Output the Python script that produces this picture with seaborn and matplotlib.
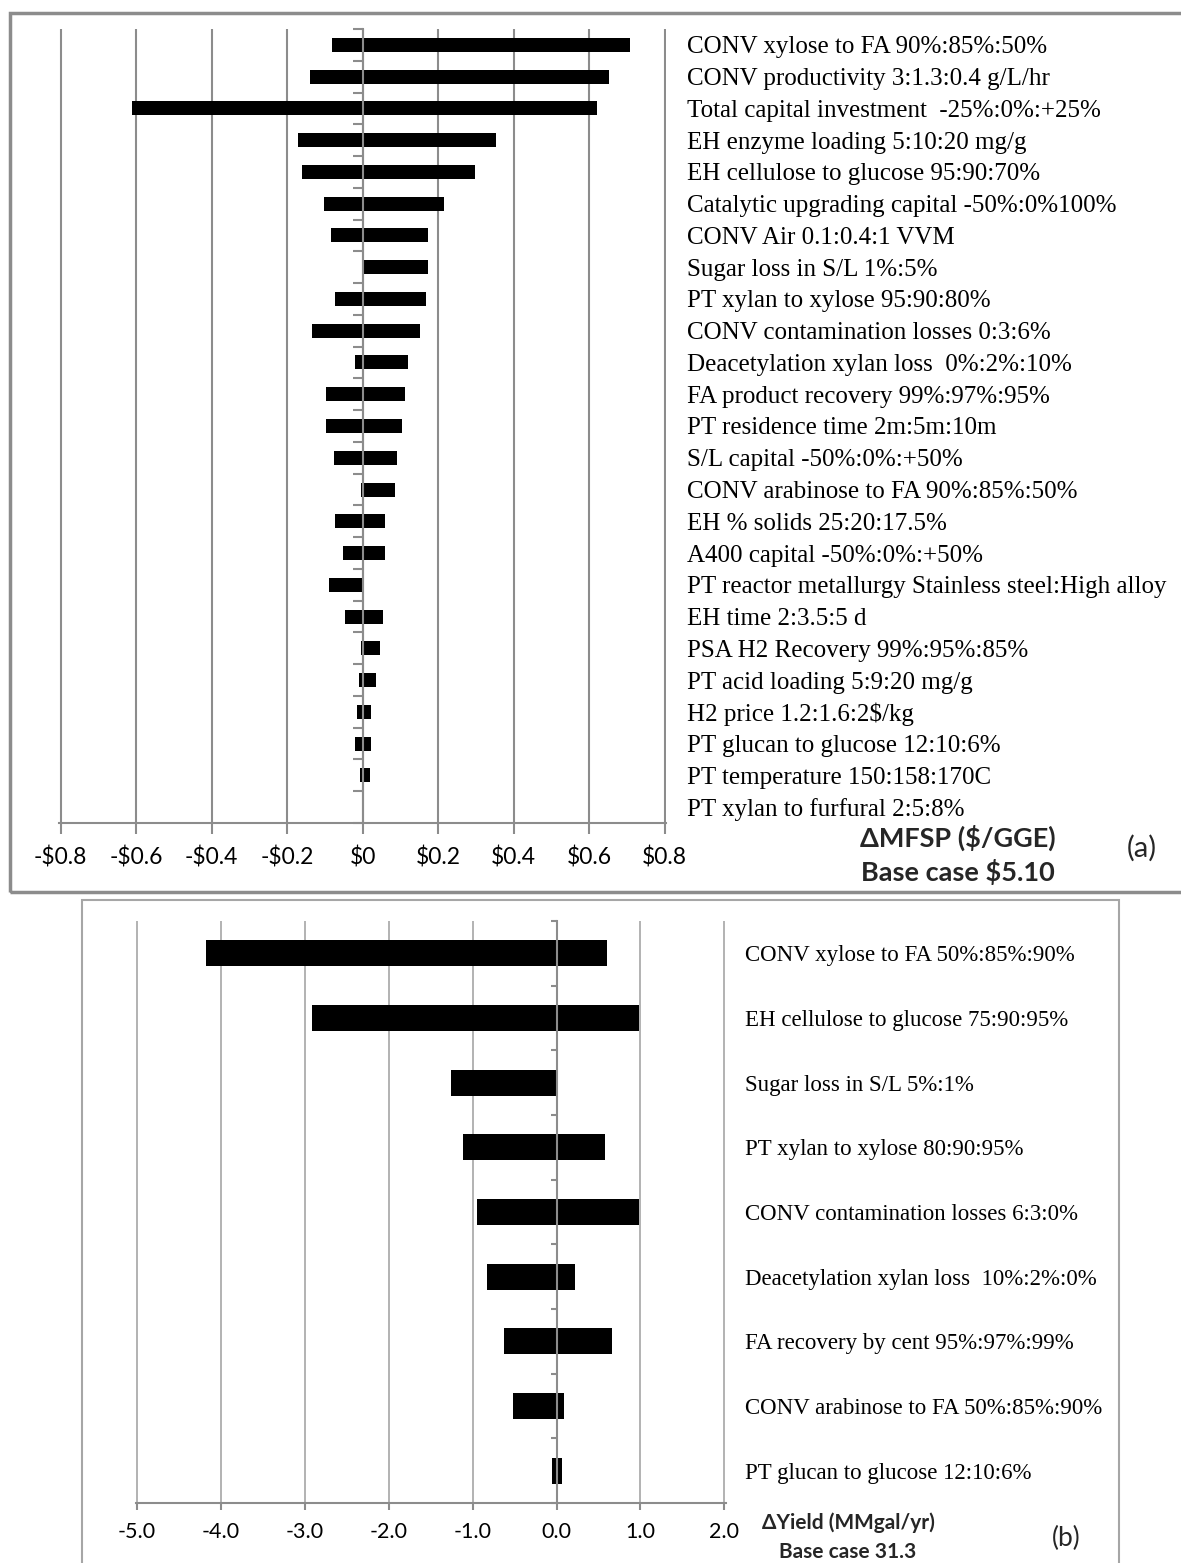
import numpy as np
import pandas as pd
import matplotlib
matplotlib.use("Agg")
import matplotlib.pyplot as plt
import seaborn as sns
from matplotlib.patches import Rectangle

# --- panel (a): MFSP sensitivity ---
factors_a = [
    "CONV xylose to FA 90%:85%:50%",
    "CONV productivity 3:1.3:0.4 g/L/hr",
    "Total capital investment  -25%:0%:+25%",
    "EH enzyme loading 5:10:20 mg/g",
    "EH cellulose to glucose 95:90:70%",
    "Catalytic upgrading capital -50%:0%100%",
    "CONV Air 0.1:0.4:1 VVM",
    "Sugar loss in S/L 1%:5%",
    "PT xylan to xylose 95:90:80%",
    "CONV contamination losses 0:3:6%",
    "Deacetylation xylan loss  0%:2%:10%",
    "FA product recovery 99%:97%:95%",
    "PT residence time 2m:5m:10m",
    "S/L capital -50%:0%:+50%",
    "CONV arabinose to FA 90%:85%:50%",
    "EH % solids 25:20:17.5%",
    "A400 capital -50%:0%:+50%",
    "PT reactor metallurgy Stainless steel:High alloy",
    "EH time 2:3.5:5 d",
    "PSA H2 Recovery 99%:95%:85%",
    "PT acid loading 5:9:20 mg/g",
    "H2 price 1.2:1.6:2$/kg",
    "PT glucan to glucose 12:10:6%",
    "PT temperature 150:158:170C",
    "PT xylan to furfural 2:5:8%",
]
low_a = [-0.082, -0.139, -0.612, -0.171, -0.160, -0.103, -0.083, 0.0, -0.073,
         -0.134, -0.021, -0.097, -0.097, -0.077, -0.005, -0.073, -0.052, -0.088,
         -0.047, -0.005, -0.010, -0.015, -0.021, -0.006, 0.0]
high_a = [0.707, 0.651, 0.620, 0.352, 0.297, 0.214, 0.173, 0.173, 0.168,
          0.153, 0.121, 0.112, 0.105, 0.090, 0.085, 0.058, 0.058, 0.0,
          0.055, 0.045, 0.034, 0.023, 0.023, 0.019, 0.0]
xticks_a = [-0.8, -0.6, -0.4, -0.2, 0.0, 0.2, 0.4, 0.6, 0.8]
xticklabels_a = ["-$0.8", "-$0.6", "-$0.4", "-$0.2", "$0", "$0.2", "$0.4", "$0.6", "$0.8"]

# --- panel (b): yield sensitivity ---
factors_b = [
    "CONV xylose to FA 50%:85%:90%",
    "EH cellulose to glucose 75:90:95%",
    "Sugar loss in S/L 5%:1%",
    "PT xylan to xylose 80:90:95%",
    "CONV contamination losses 6:3:0%",
    "Deacetylation xylan loss  10%:2%:0%",
    "FA recovery by cent 95%:97%:99%",
    "CONV arabinose to FA 50%:85%:90%",
    "PT glucan to glucose 12:10:6%",
]
low_b = [-4.18, -2.92, -1.26, -1.11, -0.95, -0.83, -0.63, -0.52, -0.06]
high_b = [0.60, 0.98, 0.0, 0.58, 0.98, 0.22, 0.66, 0.09, 0.06]
xticks_b = [-5, -4, -3, -2, -1, 0, 1, 2]
xticklabels_b = ["-5.0", "-4.0", "-3.0", "-2.0", "-1.0", "0.0", "1.0", "2.0"]

W, H = 1181, 1563
sns.set_theme(style="white")
plt.rcParams["font.family"] = ["Lato", "DejaVu Sans"]
plt.rcParams["text.parse_math"] = False

fig = plt.figure(figsize=(W / 100, H / 100), dpi=100)


def px_axes(x0, x1, y0, y1):
    # pixel box (top-left origin) -> figure axes
    return fig.add_axes([x0 / W, 1 - y1 / H, (x1 - x0) / W, (y1 - y0) / H])


def tornado(ax, factors, low, high, xticks, xticklabels, lim, bar_w, grid_c, grid_lw,
            label_size, label_pad, tick_size, tick_pad, tick_len):
    df = pd.DataFrame({"factor": factors, "low": low, "high": high})
    for col in ["low", "high"]:
        sns.barplot(data=df, y="factor", x=col, orient="h", color="black",
                    width=bar_w, errorbar=None, saturation=1, linewidth=0, ax=ax)
    n = len(factors)
    eps = (lim[1] - lim[0]) * 0.002
    ax.set_xlim(lim[0] - eps, lim[1] + eps)
    ax.set_ylim(n - 0.5, -0.5)
    ax.set_xlabel("")
    ax.set_ylabel("")
    ax.set_xticks(xticks)
    ax.set_xticklabels(xticklabels)
    ax.set_axisbelow(True)
    ax.grid(axis="x", color=grid_c, lw=grid_lw)
    ax.grid(axis="y", visible=False)
    for s in ["top", "right"]:
        ax.spines[s].set_visible(False)
    ax.spines["left"].set_position(("data", 0))
    for s in ["left", "bottom"]:
        ax.spines[s].set_color("#8c8c8c")
        ax.spines[s].set_linewidth(1.5)
        ax.spines[s].set_zorder(3)
    ax.set_yticks(np.arange(-0.5, n, 1), minor=True)
    ax.tick_params(axis="y", which="major", left=False, right=False, length=0,
                   labelleft=False, labelright=True, pad=label_pad,
                   labelsize=label_size, labelfontfamily="Liberation Serif",
                   labelcolor="black")
    ax.tick_params(axis="y", which="minor", left=True, length=tick_len - 1,
                   width=1.5, color="#8c8c8c", direction="out")
    ax.tick_params(axis="x", which="major", bottom=True, length=tick_len,
                   width=1.5, color="#8c8c8c", direction="out",
                   labelsize=tick_size, pad=tick_pad, labelcolor="black")


ax_a = px_axes(59.4, 666, 29, 823)
tornado(ax_a, factors_a, low_a, high_a, xticks_a, xticklabels_a, (-0.8, 0.8), 0.44,
        "#8c8c8c", 1.5, 18, 15, 16.5, 9, 8)

ax_b = px_axes(136, 725.5, 921, 1503)
tornado(ax_b, factors_b, low_b, high_b, xticks_b, xticklabels_b, (-5, 2), 0.4,
        "#a6a6a6", 1.2, 16.5, 14, 15.5, 9, 5)


def ftext(x, y, s, **kw):
    fig.text(x / W, 1 - y / H, s, ha="center", va="center", **kw)


ftext(958, 838, "ΔMFSP ($/GGE)", fontsize=19.5, fontweight="bold")
ftext(958, 872, "Base case $5.10", fontsize=19.5, fontweight="bold")
ftext(1142, 848, "(a)", fontsize=21)
ftext(848, 1523, "ΔYield (MMgal/yr)", fontsize=15, fontweight="bold")
ftext(848, 1552, "Base case 31.3", fontsize=15, fontweight="bold")
ftext(1066, 1538, "(b)", fontsize=19)

# panel frames
fig.add_artist(Rectangle((10 / W, 1 - 892 / H), 1200 / W, (892 - 13) / H,
                         transform=fig.transFigure, fill=False,
                         ec="#8c8c8c", lw=2.5))
fig.add_artist(Rectangle((82 / W, 1 - 1600 / H), (1119 - 82) / W, (1600 - 900) / H,
                         transform=fig.transFigure, fill=False,
                         ec="#a6a6a6", lw=1.5))

fig.savefig("out.png", dpi=100)
